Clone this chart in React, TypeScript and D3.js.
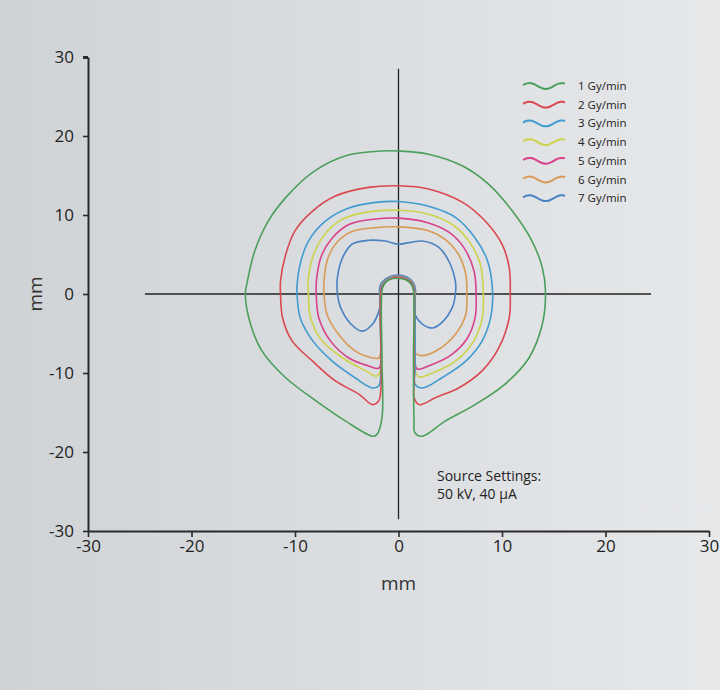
import React, { useEffect, useRef } from "react";
import * as d3 from "d3";

// isodose contours, [x mm, y mm]
const dose1 = [[-1.6,-15.7],[-1.6,-8],[-1.6,0.4],[-1.4,1.2],[-0.9,1.8],[-0.1,2.0],[0.7,1.8],[1.25,1.2],[1.45,0.4],[1.45,-8],[1.5,-15.7],[1.6,-17.6],[2.3,-18.0],[4.5,-16.1],[7.4,-14.0],[10.3,-11.4],[12.6,-8.1],[13.9,-3.8],[14.2,0.4],[13.9,3.3],[12.9,6.7],[11.0,10.5],[8.7,13.9],[6.2,16.2],[2.9,17.7],[0,18.1],[-1.6,18.1],[-5.1,17.5],[-8.3,15.4],[-10.9,12.2],[-12.6,9.2],[-13.9,5.4],[-14.6,1.6],[-14.8,0],[-14.3,-3.8],[-13.2,-7.2],[-10.9,-10.6],[-8.0,-13.5],[-5.1,-16.1],[-2.5,-18.0],[-2.1,-17.8]];
const dose2 = [[-1.7,-11.9],[-1.7,-6],[-1.7,0.4],[-1.45,1.25],[-0.9,1.85],[-0.1,2.1],[0.7,1.9],[1.3,1.25],[1.5,0.4],[1.5,-6],[1.5,-11.4],[1.5,-13.1],[2.0,-14.0],[3.6,-13.1],[5.8,-11.9],[8.1,-9.7],[9.7,-6.8],[10.7,-3.0],[10.8,0],[10.7,3.3],[10.0,6.3],[8.4,9.2],[6.2,11.6],[2.9,13.3],[0,13.7],[-2.9,13.5],[-6.1,12.4],[-8.3,10.5],[-10.0,8.0],[-10.9,5.0],[-11.4,1.6],[-11.4,0],[-11.2,-3.0],[-10.3,-5.9],[-8.3,-8.5],[-6.1,-11.0],[-3.8,-12.7],[-2.5,-14.0],[-1.9,-13.5]];
const dose3 = [[-1.7,-9.7],[-1.75,-4],[-1.75,0.4],[-1.5,1.3],[-0.9,1.9],[-0.1,2.15],[0.7,1.95],[1.35,1.3],[1.55,0.4],[1.6,-4],[1.6,-9.7],[1.6,-11.4],[2.3,-11.9],[4.2,-10.6],[6.5,-8.5],[8.1,-5.9],[8.9,-3.0],[9.1,0],[8.6,4.2],[7.4,7.1],[5.5,9.7],[2.9,11.1],[0,11.7],[-2.2,11.6],[-4.8,10.9],[-7.1,9.2],[-8.7,6.7],[-9.5,3.8],[-9.8,1.2],[-9.8,0],[-9.5,-3.0],[-8.3,-5.9],[-6.4,-8.5],[-4.2,-10.6],[-2.5,-11.9],[-1.9,-11.6]];
const dose4 = [[-1.7,-9.5],[-1.75,-4],[-1.75,0.4],[-1.5,1.3],[-0.9,1.9],[-0.1,2.15],[0.7,1.95],[1.35,1.3],[1.55,0.4],[1.6,-4],[1.6,-9.7],[2.0,-10.5],[3.3,-10.0],[5.5,-8.5],[7.3,-5.9],[8.1,-3.0],[8.2,0],[7.9,3.8],[6.8,6.7],[5.2,8.8],[2.9,10.1],[0,10.6],[-2.9,10.4],[-5.4,9.5],[-7.1,7.6],[-8.2,5.0],[-8.7,2.1],[-8.7,0],[-8.5,-3.0],[-7.4,-5.9],[-5.4,-8.1],[-3.2,-9.7],[-2.1,-10.4]];
const dose5 = [[-1.7,-8.7],[-1.75,-4],[-1.75,0.4],[-1.5,1.3],[-0.9,1.9],[-0.1,2.2],[0.7,1.95],[1.35,1.3],[1.55,0.4],[1.6,-4],[1.6,-8.7],[1.8,-9.5],[2.9,-9.1],[5.0,-7.8],[6.6,-5.7],[7.4,-3.0],[7.5,0],[7.3,2.9],[6.3,5.9],[4.9,7.8],[2.9,9.0],[0,9.6],[-2.2,9.5],[-4.8,8.8],[-6.4,7.1],[-7.4,5.0],[-7.9,2.1],[-7.95,0],[-7.7,-3.0],[-6.6,-5.9],[-4.8,-8.1],[-2.9,-9.1],[-1.9,-9.4]];
const dose6 = [[-1.7,-7.2],[-1.75,-3],[-1.75,0.4],[-1.55,1.35],[-0.95,1.95],[-0.1,2.25],[0.75,2.0],[1.4,1.35],[1.55,0.4],[1.55,-3],[1.55,-6.0],[1.6,-7.4],[2.3,-7.8],[3.9,-7.0],[5.5,-5.1],[6.5,-2.6],[6.6,0],[6.5,2.5],[5.8,5.0],[4.5,6.9],[2.9,8.0],[0,8.5],[-2.2,8.4],[-4.5,7.9],[-6.1,6.3],[-6.9,4.2],[-7.2,1.6],[-7.2,0],[-6.9,-2.6],[-5.8,-5.1],[-4.2,-7.2],[-2.5,-8.1],[-1.9,-8.1]];
const dose7 = [[-1.7,-0.9],[-1.85,0.4],[-1.65,1.4],[-1.0,2.1],[-0.1,2.4],[0.8,2.15],[1.45,1.4],[1.65,0.4],[1.5,-0.9],[1.6,-2.6],[2.3,-3.8],[3.3,-4.3],[4.2,-3.6],[5.2,-1.7],[5.5,0],[5.5,1.6],[5.0,3.8],[3.9,5.9],[2.3,6.7],[1.0,6.5],[0,6.3],[-1.3,6.7],[-2.9,6.8],[-4.5,6.3],[-5.4,4.6],[-5.9,2.1],[-5.9,0],[-5.6,-1.7],[-4.6,-3.8],[-3.5,-4.7],[-2.5,-3.8],[-1.9,-2.2]];

const contours = [dose1, dose2, dose3, dose4, dose5, dose6, dose7];
const labels = ["1 Gy/min", "2 Gy/min", "3 Gy/min", "4 Gy/min", "5 Gy/min", "6 Gy/min", "7 Gy/min"];
const colors = ["#4b9f5a", "#d9484f", "#3f9bd0", "#cdd34a", "#d8408a", "#d99a56", "#4a82c2"];
const ticks = [-30, -20, -10, 0, 10, 20, 30];
const note = ["Source Settings:", "50 kV, 40 µA"];

const FONT = "'Open Sans', 'Noto Sans', sans-serif";

const App = () => {
    const svgRef = useRef<SVGSVGElement>(null);

    useEffect(() => {
        const svg = d3.select(svgRef.current);
        svg.selectAll("g.plot").remove();
        const g = svg.append("g").attr("class", "plot");

        const x = d3.scaleLinear().domain([-30, 30]).range([88, 709]);
        const y = d3.scaleLinear().domain([-30, 30]).range([531, 57]);

        // crosshair
        g.append("line")
            .attr("x1", x(0)).attr("x2", x(0))
            .attr("y1", y(28.5)).attr("y2", y(-28.5))
            .attr("stroke", "#222").attr("stroke-width", 1.3);
        g.append("line")
            .attr("x1", x(-24.5)).attr("x2", x(24.4))
            .attr("y1", y(0)).attr("y2", y(0))
            .attr("stroke", "#222").attr("stroke-width", 1.3);

        const line = d3
            .line<number[]>()
            .curve(d3.curveCatmullRomClosed.alpha(0.5))
            .x(d => x(d[0]))
            .y(d => y(d[1]));

        contours
            .map((c, i) => ({ c, i }))
            .reverse()
            .forEach(({ c, i }) => {
                g.append("path")
                    .datum(c)
                    .attr("fill", "none")
                    .attr("stroke", colors[i])
                    .attr("stroke-width", 1.6)
                    .attr("stroke-linejoin", "round")
                    .attr("d", line);
            });

        // axes
        const fmt = (d: number) => String(d);
        const ax = g.append("g").attr("transform", `translate(0,${y(-30)})`)
            .call(d3.axisBottom(x).tickValues(ticks).tickFormat(fmt).tickSize(6).tickSizeOuter(0).tickPadding(3));
        const ay = g.append("g").attr("transform", `translate(${x(-30)},0)`)
            .call(d3.axisLeft(y).tickValues(ticks).tickFormat(fmt).tickSize(5).tickSizeOuter(0).tickPadding(9));
        [ax, ay].forEach(a => {
            a.select(".domain").attr("stroke", "#2a2a2a").attr("stroke-width", 2);
            a.selectAll(".tick line").attr("stroke", "#2a2a2a").attr("stroke-width", 1.6);
            a.selectAll(".tick text")
                .attr("fill", "#1e1e1e")
                .style("font-family", FONT)
                .style("font-size", "17px");
        });
        // heavier end tick at the top of the y axis
        ay.select(".tick:last-of-type line").attr("stroke-width", 3);

        g.append("text")
            .attr("x", x(0)).attr("y", 590)
            .attr("text-anchor", "middle")
            .attr("fill", "#333")
            .style("font-family", FONT).style("font-size", "19px")
            .text("mm");
        g.append("text")
            .attr("transform", `translate(42,${y(0)}) rotate(-90)`)
            .attr("text-anchor", "middle")
            .attr("fill", "#333")
            .style("font-family", FONT).style("font-size", "19px")
            .text("mm");

        // legend
        const wave = d3.line<number>()
            .curve(d3.curveBasis)
            .x(t => 523 + t * 42)
            .y(t => -3 * Math.sin(t * Math.PI * 2.6 + 0.3));
        const legend = g.append("g");
        labels.forEach((lab, i) => {
            const ly = 86 + i * 18.7;
            legend.append("path")
                .datum(d3.range(0, 1.0001, 0.05))
                .attr("transform", `translate(0,${ly})`)
                .attr("fill", "none")
                .attr("stroke", colors[i])
                .attr("stroke-width", 2)
                .attr("d", wave);
            legend.append("text")
                .attr("x", 578).attr("y", ly + 4)
                .attr("fill", "#222")
                .style("font-family", FONT).style("font-size", "11.5px")
                .text(lab);
        });

        note.forEach((t, i) => {
            g.append("text")
                .attr("x", 437).attr("y", 481 + i * 18)
                .attr("fill", "#222")
                .style("font-family", FONT).style("font-size", "14px")
                .text(t);
        });
    }, []);

    return (
        <svg
            ref={svgRef}
            width={720}
            height={690}
            style={{ position: "absolute", left: 0, top: 0 }}
        >
            <defs>
                <linearGradient id="bg" x1="0%" x2="100%" y1="0%" y2="0%">
                    <stop offset="0%" stopColor="#d0d3d6" />
                    <stop offset="100%" stopColor="#e6e8ea" />
                </linearGradient>
            </defs>
            <rect width={720} height={690} fill="url(#bg)" />
        </svg>
    );
};

export default App;
